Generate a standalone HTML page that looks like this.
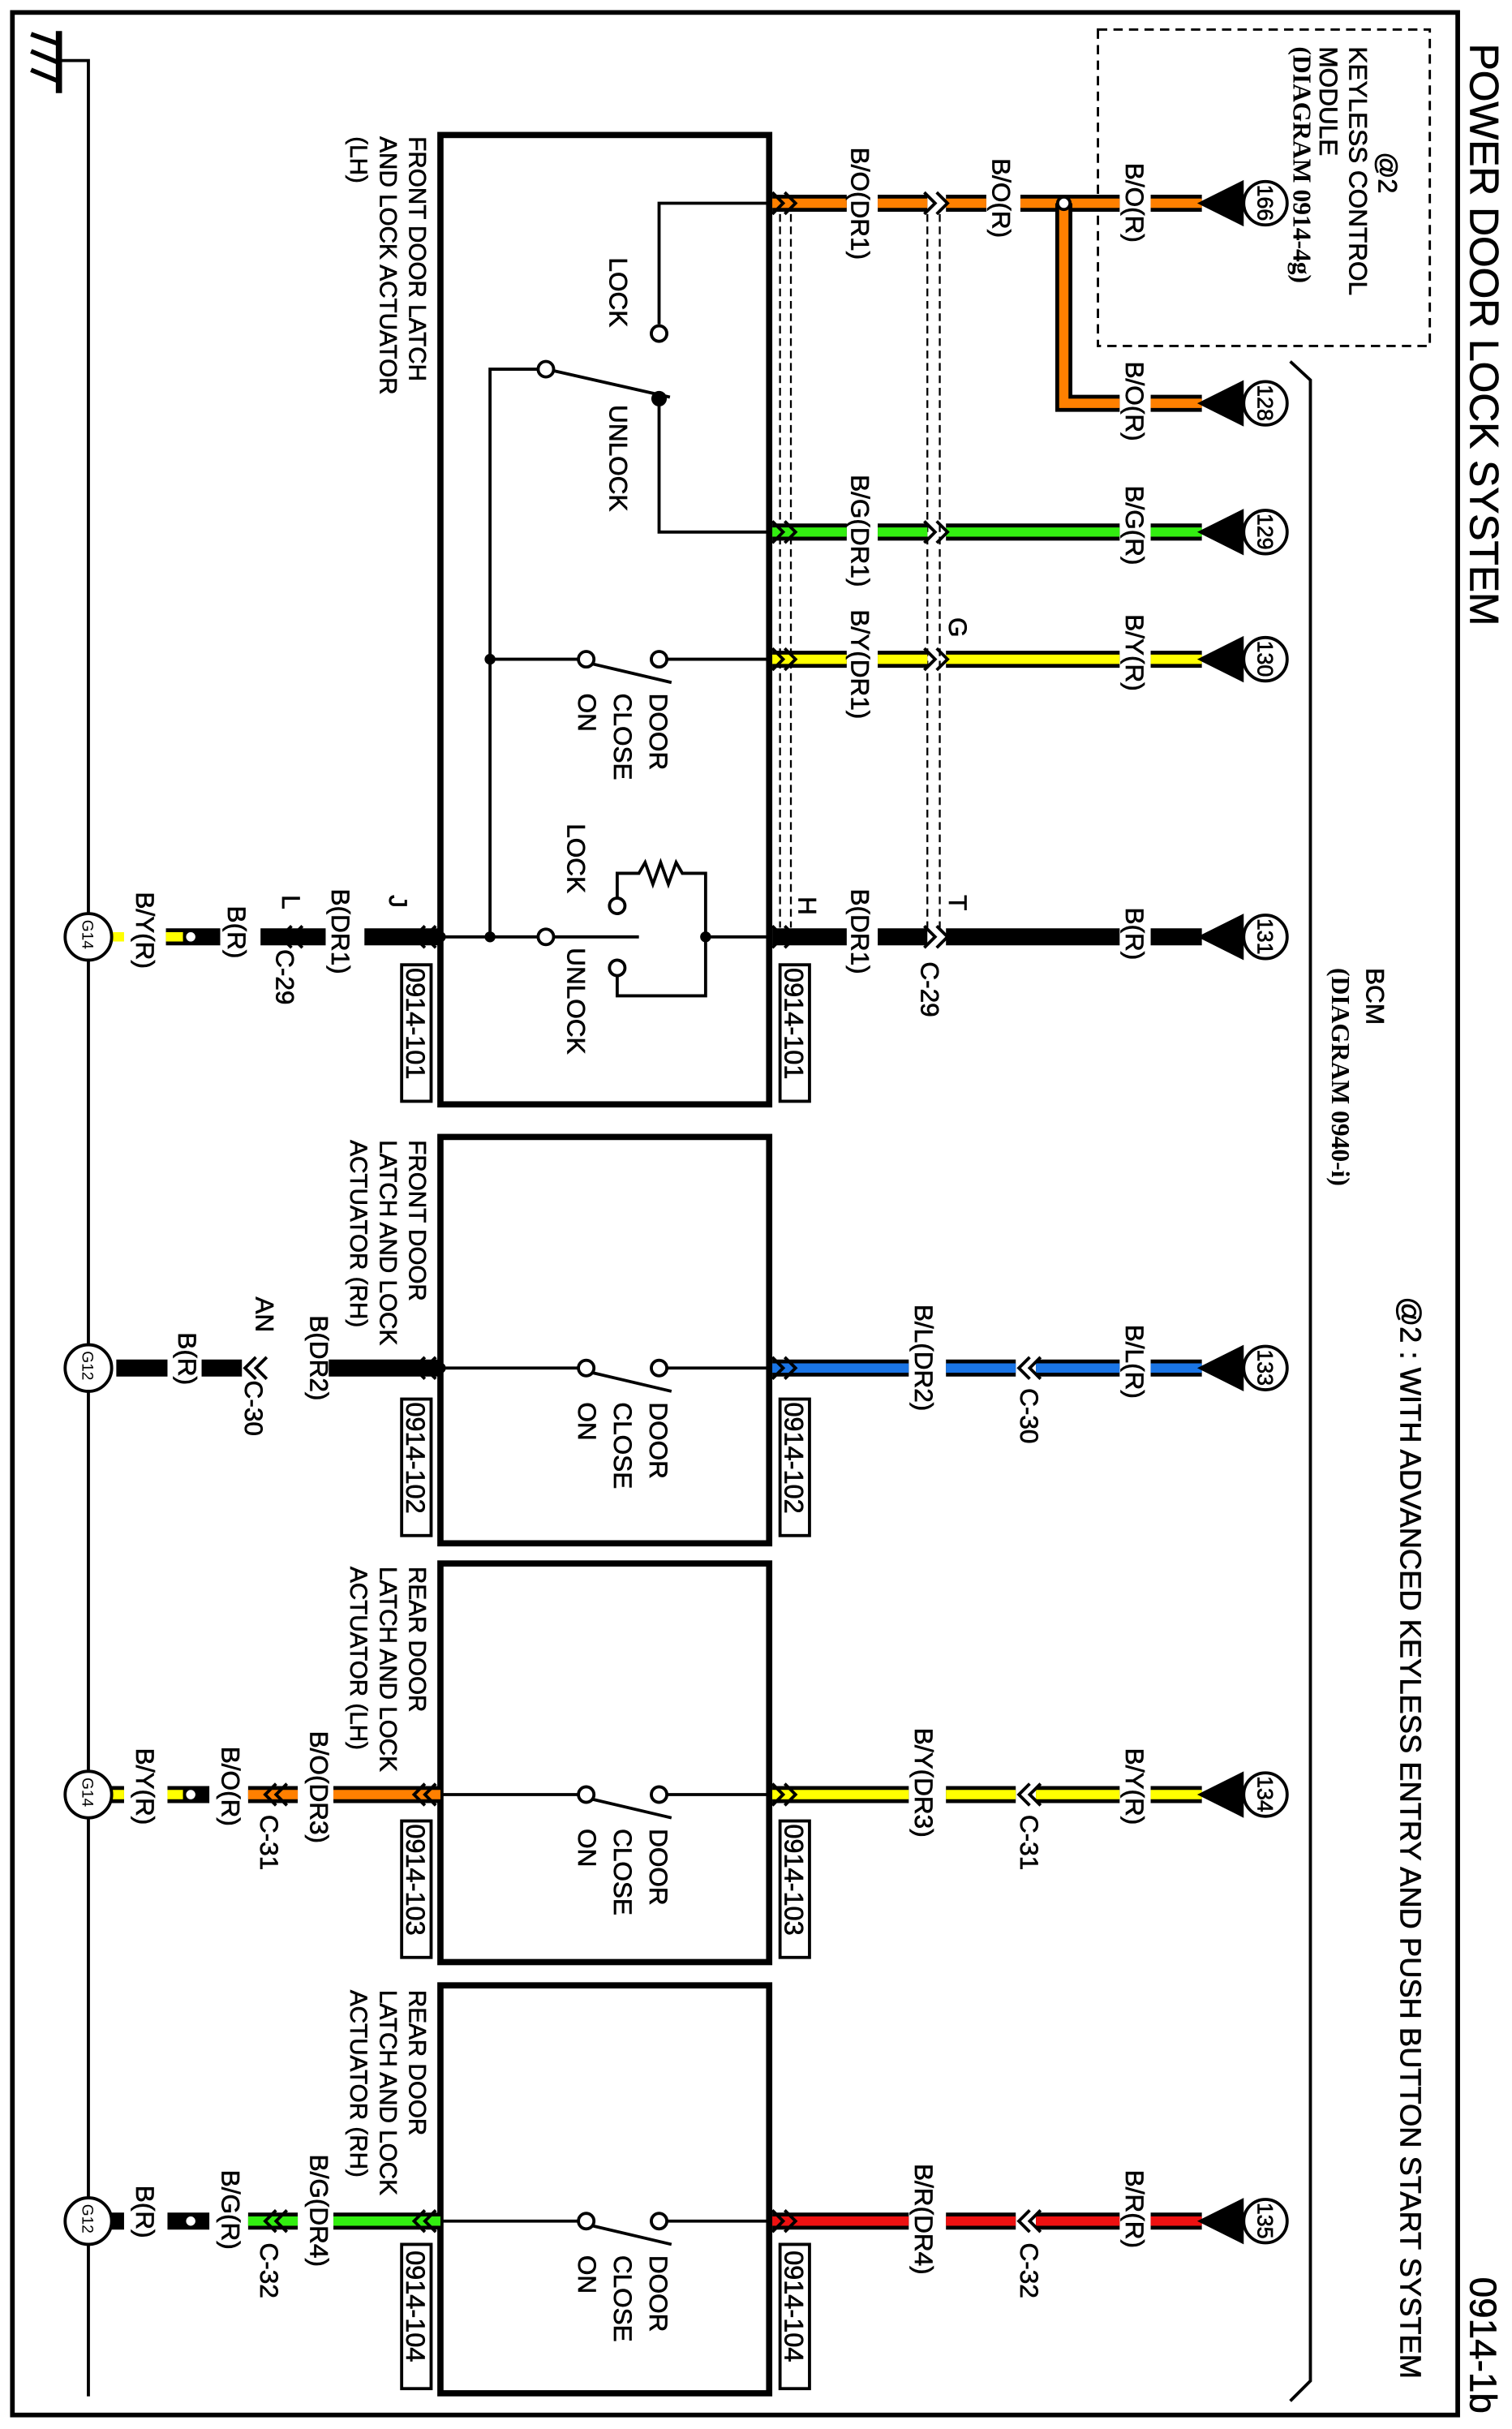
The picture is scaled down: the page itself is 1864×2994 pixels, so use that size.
<!DOCTYPE html>
<html><head><meta charset="utf-8"><style>
html,body{margin:0;padding:0;background:#fff}
svg{display:block}
text{font-family:"Liberation Sans",sans-serif;font-size:16.5px;fill:#000;stroke:#000;stroke-width:.35}
.s{font-family:"Liberation Serif",serif;font-weight:bold;stroke-width:0}
.o{stroke:#000;stroke-width:11;fill:none}
.ln{stroke:#000;stroke-width:2;fill:none}
.bx{stroke:#000;stroke-width:4;fill:none}
.c{fill:#fff;stroke:#000;stroke-width:2}
.ch{fill:none;stroke:#000;stroke-width:2}
.bl{font-size:15.5px}
.rf{font-size:17px}
</style></head><body>
<svg width="1864" height="2994" viewBox="0 0 975 1566" xmlns="http://www.w3.org/2000/svg">
<rect x="8" y="8" width="932" height="1549" fill="none" stroke="#000" stroke-width="3"/>
<text transform="translate(948,28) rotate(90)" style="font-size:26px">POWER DOOR LOCK SYSTEM</text>
<text transform="translate(948,1468) rotate(90)" style="font-size:24px">0914-1b</text>
<text transform="translate(903,836) rotate(90)" style="font-size:19px">@2 : WITH ADVANCED KEYLESS ENTRY AND PUSH BUTTON START SYSTEM</text>

<path class="ln" d="M39 39H57V1545"/>
<path d="M38 20V60" stroke="#000" stroke-width="4"/>
<path d="M20 22L37 28M20 33L37 40M20 45L37 52" stroke="#000" stroke-width="3"/>

<rect x="708" y="19" width="214" height="204" fill="none" stroke="#000" stroke-width="1.5" stroke-dasharray="6,4"/>
<text transform="translate(889,98) rotate(90)" style="font-size:17px">@2</text>
<text transform="translate(870,30) rotate(90)">KEYLESS CONTROL</text>
<text transform="translate(851,30) rotate(90)">MODULE</text>
<text class="s" transform="translate(834,30) rotate(90)">(DIAGRAM 0914-4g)</text>
<path class="ln" d="M832 233L845 245V1535L832 1548"/>
<text transform="translate(881,624) rotate(90)">BCM</text>
<text class="s" transform="translate(859,624) rotate(90)">(DIAGRAM 0940-i)</text>

<rect class="bx" x="284" y="87" width="212" height="625"/>
<rect class="bx" x="284" y="733" width="212" height="262"/>
<rect class="bx" x="284" y="1008" width="212" height="257"/>
<rect class="bx" x="284" y="1280" width="212" height="263"/>

<text class="bl" transform="translate(264,88) rotate(90)">FRONT DOOR LATCH</text>
<text class="bl" transform="translate(245,88) rotate(90)">AND LOCK ACTUATOR</text>
<text class="bl" transform="translate(226,88) rotate(90)">(LH)</text>
<text class="bl" transform="translate(264,735) rotate(90)">FRONT DOOR</text>
<text class="bl" transform="translate(245,735) rotate(90)">LATCH AND LOCK</text>
<text class="bl" transform="translate(226,735) rotate(90)">ACTUATOR (RH)</text>
<text class="bl" transform="translate(264,1010) rotate(90)">REAR DOOR</text>
<text class="bl" transform="translate(245,1010) rotate(90)">LATCH AND LOCK</text>
<text class="bl" transform="translate(226,1010) rotate(90)">ACTUATOR (LH)</text>
<text class="bl" transform="translate(264,1283) rotate(90)">REAR DOOR</text>
<text class="bl" transform="translate(245,1283) rotate(90)">LATCH AND LOCK</text>
<text class="bl" transform="translate(226,1283) rotate(90)">ACTUATOR (RH)</text>

<g fill="#fff" stroke="#000" stroke-width="2">
<rect x="259" y="622" width="19" height="88"/><rect x="503" y="622" width="19" height="88"/>
<rect x="259" y="902" width="19" height="88"/><rect x="503" y="902" width="19" height="88"/>
<rect x="259" y="1174" width="19" height="88"/><rect x="503" y="1174" width="19" height="88"/>
<rect x="259" y="1447" width="19" height="93"/><rect x="503" y="1447" width="19" height="93"/>
</g>
<text class="rf" transform="translate(262,624) rotate(90)">0914-101</text><text class="rf" transform="translate(506,624) rotate(90)">0914-101</text>
<text class="rf" transform="translate(262,904) rotate(90)">0914-102</text><text class="rf" transform="translate(506,904) rotate(90)">0914-102</text>
<text class="rf" transform="translate(262,1176) rotate(90)">0914-103</text><text class="rf" transform="translate(506,1176) rotate(90)">0914-103</text>
<text class="rf" transform="translate(262,1451) rotate(90)">0914-104</text><text class="rf" transform="translate(506,1451) rotate(90)">0914-104</text>

<path d="M503 138V598M510 138V598M598 138V598M606 138V598" stroke="#000" stroke-width="1.2" stroke-dasharray="5,3"/>

<path class="o" d="M498 131H546M566 131H598M610 131H636M658 131H722M742 131H775"/>
<path stroke="#ff8000" stroke-width="6" fill="none" d="M498 131H546M566 131H598M610 131H636M658 131H722M742 131H775"/>
<path class="o" d="M686 131V260H722M742 260H775"/>
<path stroke="#ff8000" stroke-width="6" fill="none" d="M686 131V260H722M742 260H775"/>
<circle cx="686" cy="131" r="4" class="c"/>
<path class="o" d="M498 343H546M566 343H598M610 343H722M742 343H775"/>
<path stroke="#33ee11" stroke-width="6" fill="none" d="M498 343H546M566 343H598M610 343H722M742 343H775"/>
<path class="o" d="M498 425H546M566 425H598M610 425H722M742 425H775"/>
<path stroke="#ffff00" stroke-width="6" fill="none" d="M498 425H546M566 425H598M610 425H722M742 425H775"/>
<path class="o" d="M498 604H546M566 604H598M610 604H722M742 604H775"/>
<path class="o" d="M498 882H586M610 882H655M668 882H722M742 882H775"/>
<path stroke="#1a75e6" stroke-width="6" fill="none" d="M498 882H586M610 882H655M668 882H722M742 882H775"/>
<path class="o" d="M498 1157H586M610 1157H655M668 1157H722M742 1157H775"/>
<path stroke="#ffff00" stroke-width="6" fill="none" d="M498 1157H586M610 1157H655M668 1157H722M742 1157H775"/>
<path class="o" d="M498 1432H586M610 1432H655M668 1432H722M742 1432H775"/>
<path stroke="#ee1111" stroke-width="6" fill="none" d="M498 1432H586M610 1432H655M668 1432H722M742 1432H775"/>

<g class="ch">
<path d="M498 124L505 131L498 138M506 124L513 131L506 138"/>
<path d="M498 336L505 343L498 350M506 336L513 343L506 350"/>
<path d="M498 418L505 425L498 432M506 418L513 425L506 432"/>
<path d="M498 597L505 604L498 611M506 597L513 604L506 611"/>
<path d="M596 124L603 131L596 138M604 124L611 131L604 138"/>
<path d="M596 336L603 343L596 350M604 336L611 343L604 350"/>
<path d="M596 418L603 425L596 432M604 418L611 425L604 432"/>
<path d="M596 597L603 604L596 611M604 597L611 604L604 611"/>
<path d="M498 875L505 882L498 889M506 875L513 882L506 889"/>
<path d="M498 1150L505 1157L498 1164M506 1150L513 1157L506 1164"/>
<path d="M498 1425L505 1432L498 1439M506 1425L513 1432L506 1439"/>
<path d="M664 875L657 882L664 889M671 875L664 882L671 889"/>
<path d="M664 1150L657 1157L664 1164M671 1150L664 1157L671 1164"/>
<path d="M664 1425L657 1432L664 1439M671 1425L664 1432L671 1439"/>
</g>

<g>
<path d="M772 131L802 116V146Z"/><circle cx="816" cy="131" r="14" class="c"/>
<path d="M772 260L802 245V275Z"/><circle cx="816" cy="260" r="14" class="c"/>
<path d="M772 343L802 328V358Z"/><circle cx="816" cy="343" r="14" class="c"/>
<path d="M772 425L802 410V440Z"/><circle cx="816" cy="425" r="14" class="c"/>
<path d="M772 604L802 589V619Z"/><circle cx="816" cy="604" r="14" class="c"/>
<path d="M772 882L802 867V897Z"/><circle cx="816" cy="882" r="14" class="c"/>
<path d="M772 1157L802 1142V1172Z"/><circle cx="816" cy="1157" r="14" class="c"/>
<path d="M772 1432L802 1417V1447Z"/><circle cx="816" cy="1432" r="14" class="c"/>
</g>
<text transform="translate(811,119) rotate(90)" style="font-size:14px">166</text>
<text transform="translate(811,248) rotate(90)" style="font-size:14px">128</text>
<text transform="translate(811,331) rotate(90)" style="font-size:14px">129</text>
<text transform="translate(811,413) rotate(90)" style="font-size:14px">130</text>
<text transform="translate(811,592) rotate(90)" style="font-size:14px">131</text>
<text transform="translate(811,870) rotate(90)" style="font-size:14px">133</text>
<text transform="translate(811,1145) rotate(90)" style="font-size:14px">134</text>
<text transform="translate(811,1420) rotate(90)" style="font-size:14px">135</text>

<text transform="translate(549,95) rotate(90)">B/O(DR1)</text>
<text transform="translate(640,102) rotate(90)">B/O(R)</text>
<text transform="translate(726,105) rotate(90)">B/O(R)</text>
<text transform="translate(726,233) rotate(90)">B/O(R)</text>
<text transform="translate(549,306) rotate(90)">B/G(DR1)</text>
<text transform="translate(726,313) rotate(90)">B/G(R)</text>
<text transform="translate(549,393) rotate(90)">B/Y(DR1)</text>
<text transform="translate(612,398) rotate(90)">G</text>
<text transform="translate(726,396) rotate(90)">B/Y(R)</text>
<text transform="translate(549,573) rotate(90)">B(DR1)</text>
<text transform="translate(515,578) rotate(90)">H</text>
<text transform="translate(612,577) rotate(90)">T</text>
<text transform="translate(594,620) rotate(90)">C-29</text>
<text transform="translate(726,585) rotate(90)">B(R)</text>
<text transform="translate(590,841) rotate(90)">B/L(DR2)</text>
<text transform="translate(658,895) rotate(90)">C-30</text>
<text transform="translate(726,854) rotate(90)">B/L(R)</text>
<text transform="translate(590,1114) rotate(90)">B/Y(DR3)</text>
<text transform="translate(658,1170) rotate(90)">C-31</text>
<text transform="translate(726,1127) rotate(90)">B/Y(R)</text>
<text transform="translate(590,1395) rotate(90)">B/R(DR4)</text>
<text transform="translate(658,1446) rotate(90)">C-32</text>
<text transform="translate(726,1399) rotate(90)">B/R(R)</text>

<path class="ln" d="M496 131H425V209"/>
<circle cx="425" cy="215" r="5" class="c"/>
<text transform="translate(393,166) rotate(90)">LOCK</text>
<path class="ln" d="M357 239L432 256"/>
<circle cx="425" cy="257" r="5"/>
<path class="ln" d="M425 257V343H496"/>
<circle cx="352" cy="238" r="5" class="c"/>
<path class="ln" d="M347 238H316V604"/>
<text transform="translate(393,261) rotate(90)">UNLOCK</text>
<circle cx="316" cy="425" r="3.5"/>
<path class="ln" d="M316 425H373M382 428L433 440M430 425H496"/>
<circle cx="378" cy="425" r="5" class="c"/>
<circle cx="425" cy="425" r="5" class="c"/>
<text transform="translate(419,447) rotate(90)">DOOR</text>
<text transform="translate(396,447) rotate(90)">CLOSE</text>
<text transform="translate(373,447) rotate(90)">ON</text>
<path class="ln" d="M284 604H347M357 604H412"/>
<circle cx="316" cy="604" r="3.5"/>
<circle cx="352" cy="604" r="5" class="c"/>
<circle cx="398" cy="584" r="5" class="c"/>
<circle cx="398" cy="624" r="5" class="c"/>
<path class="ln" d="M398 579V563H412L416 556L421 570L426 556L431 570L436 556L440 563H455V642H398V629"/>
<circle cx="455" cy="604" r="3.5"/>
<path class="ln" d="M455 604H496"/>
<text transform="translate(366,531) rotate(90)">LOCK</text>
<text transform="translate(366,611) rotate(90)">UNLOCK</text>

<path class="ln" d="M284 882H373M382 885L433 897M430 882H496"/>
<circle cx="378" cy="882" r="5" class="c"/><circle cx="425" cy="882" r="5" class="c"/>
<path class="ln" d="M284 1157H373M382 1160L433 1172M430 1157H496"/>
<circle cx="378" cy="1157" r="5" class="c"/><circle cx="425" cy="1157" r="5" class="c"/>
<path class="ln" d="M284 1432H373M382 1435L433 1447M430 1432H496"/>
<circle cx="378" cy="1432" r="5" class="c"/><circle cx="425" cy="1432" r="5" class="c"/>
<text transform="translate(419,904) rotate(90)">DOOR</text>
<text transform="translate(396,904) rotate(90)">CLOSE</text>
<text transform="translate(373,904) rotate(90)">ON</text>
<text transform="translate(419,1179) rotate(90)">DOOR</text>
<text transform="translate(396,1179) rotate(90)">CLOSE</text>
<text transform="translate(373,1179) rotate(90)">ON</text>
<text transform="translate(419,1454) rotate(90)">DOOR</text>
<text transform="translate(396,1454) rotate(90)">CLOSE</text>
<text transform="translate(373,1454) rotate(90)">ON</text>

<path class="o" d="M235 604H284M168 604H210M107 604H142"/>
<path stroke="#ffff00" stroke-width="6" d="M107 604H118"/>
<path stroke="#ffff00" stroke-width="6" d="M70 604H80"/>
<circle cx="123" cy="604" r="4" class="c"/>
<path class="o" d="M212 882H284M130 882H156M75 882H108"/>
<path class="o" d="M215 1157H284M160 1157H192M108 1157H135M70 1157H80"/>
<path stroke="#ff8000" stroke-width="6" d="M215 1157H284M160 1157H192"/>
<path stroke="#ffff00" stroke-width="6" d="M108 1157H118M70 1157H80"/>
<circle cx="123" cy="1157" r="4" class="c"/>
<path class="o" d="M215 1432H284M160 1432H192M108 1432H135M70 1432H80"/>
<path stroke="#33ee11" stroke-width="6" d="M215 1432H284M160 1432H192"/>
<circle cx="123" cy="1432" r="4" class="c"/>
<g class="ch">
<path d="M274 597L267 604L274 611M281 597L274 604L281 611"/>
<path d="M188 597L181 604L188 611M195 597L188 604L195 611"/>
<path d="M274 875L267 882L274 889M281 875L274 882L281 889"/>
<path d="M165 875L158 882L165 889M172 875L165 882L172 889"/>
<path d="M274 1150L267 1157L274 1164M281 1150L274 1157L281 1164"/>
<path d="M178 1150L171 1157L178 1164M185 1150L178 1157L185 1164"/>
<path d="M274 1425L267 1432L274 1439M281 1425L274 1432L281 1439"/>
<path d="M178 1425L171 1432L178 1439M185 1425L178 1432L185 1439"/>
</g>
<circle cx="284" cy="604" r="3.5"/>
<circle cx="284" cy="882" r="3.5"/>
<circle cx="57" cy="604" r="15" class="c"/>
<circle cx="57" cy="882" r="15" class="c"/>
<circle cx="57" cy="1157" r="15" class="c"/>
<circle cx="57" cy="1432" r="15" class="c"/>
<text transform="translate(53,593) rotate(90)" style="font-size:10px;stroke-width:0">G14</text>
<text transform="translate(53,871) rotate(90)" style="font-size:10px;stroke-width:0">G12</text>
<text transform="translate(53,1146) rotate(90)" style="font-size:10px;stroke-width:0">G14</text>
<text transform="translate(53,1421) rotate(90)" style="font-size:10px;stroke-width:0">G12</text>
<text transform="translate(251,577) rotate(90)">J</text>
<text transform="translate(214,573) rotate(90)">B(DR1)</text>
<text transform="translate(182,577) rotate(90)">L</text>
<text transform="translate(178,612) rotate(90)">C-29</text>
<text transform="translate(147,584) rotate(90)">B(R)</text>
<text transform="translate(88,575) rotate(90)">B/Y(R)</text>
<text transform="translate(200,848) rotate(90)">B(DR2)</text>
<text transform="translate(165,836) rotate(90)">AN</text>
<text transform="translate(158,890) rotate(90)">C-30</text>
<text transform="translate(115,859) rotate(90)">B(R)</text>
<text transform="translate(200,1116) rotate(90)">B/O(DR3)</text>
<text transform="translate(168,1170) rotate(90)">C-31</text>
<text transform="translate(143,1126) rotate(90)">B/O(R)</text>
<text transform="translate(88,1127) rotate(90)">B/Y(R)</text>
<text transform="translate(200,1389) rotate(90)">B/G(DR4)</text>
<text transform="translate(168,1446) rotate(90)">C-32</text>
<text transform="translate(143,1399) rotate(90)">B/G(R)</text>
<text transform="translate(88,1409) rotate(90)">B(R)</text>
</svg>
</body></html>
